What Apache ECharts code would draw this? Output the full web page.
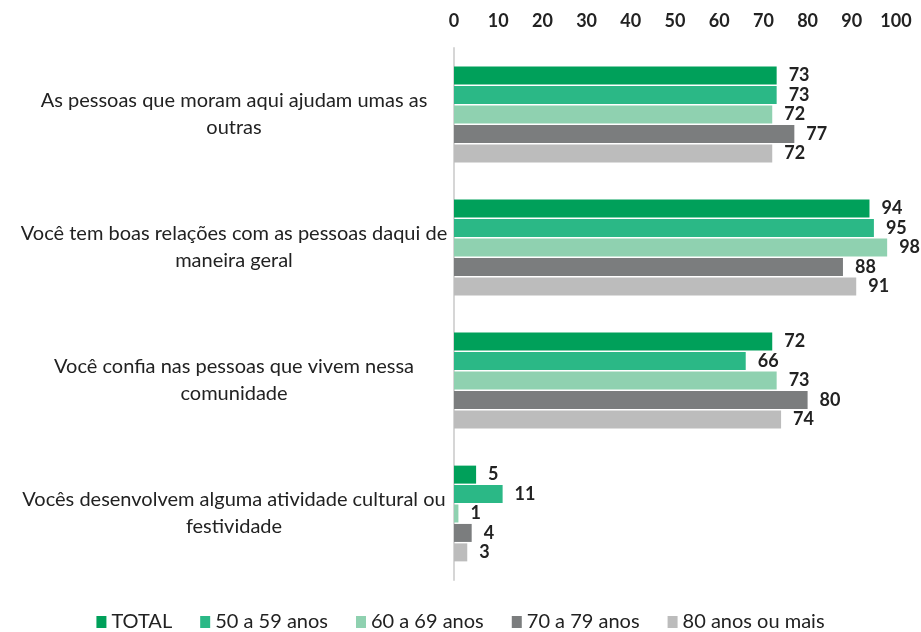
<!DOCTYPE html>
<html>
<head>
<meta charset="utf-8">
<script src="https://cdn.jsdelivr.net/npm/echarts@6/dist/echarts.min.js"></script>
<style>
  html, body { margin: 0; padding: 0; background: #fff; }
  #chart { width: 921px; height: 632px; }
</style>
</head>
<body>
<div id="chart"></div>
<script>
const categories = [
  'As pessoas que moram aqui ajudam umas as\noutras',
  'Você tem boas relações com as pessoas daqui de\nmaneira geral',
  'Você confia nas pessoas que vivem nessa\ncomunidade',
  'Vocês desenvolvem alguma atividade cultural ou\nfestividade'
]
const seriesNames = ['TOTAL', '50 a 59 anos', '60 a 69 anos', '70 a 79 anos', '80 anos ou mais']
const seriesColors = ['#00a05a', '#2bb886', '#8fd1b0', '#7b7d7e', '#bcbcbc']
const total = [73, 94, 72, 5]
const age50 = [73, 95, 66, 11]
const age60 = [72, 98, 73, 1]
const age70 = [77, 88, 80, 4]
const age80 = [72, 91, 74, 3]
const values = [total, age50, age60, age70, age80]

const chart = echarts.init(document.getElementById('chart'))
const font = 'Lato, "DejaVu Sans", sans-serif'

const option = {
  animation: false,
  textStyle: { fontFamily: font },
  legend: {
    bottom: 0,
    padding: 0,
    left: 'center',
    icon: 'rect',
    itemWidth: 10,
    itemHeight: 12,
    itemGap: 28,
    textStyle: { fontSize: 20, color: '#222', fontFamily: font },
    data: seriesNames
  },
  grid: {
    left: 454,
    right: 25,
    top: 48,
    bottom: 52
  },
  xAxis: {
    type: 'value',
    position: 'top',
    min: 0,
    max: 100,
    interval: 10,
    axisLine: { show: false },
    axisTick: { show: false },
    splitLine: { show: false },
    axisLabel: { fontSize: 18, color: '#222', margin: 18, fontWeight: 'bold', fontFamily: font }
  },
  yAxis: {
    type: 'category',
    inverse: true,
    data: categories,
    axisLine: { show: true, lineStyle: { color: '#d6d6d6', width: 2 } },
    axisTick: { show: false },
    axisLabel: {
      align: 'center',
      margin: 220,
      fontSize: 20,
      lineHeight: 27,
      color: '#222',
      fontFamily: font
    }
  },
  series: seriesNames.map((name, i) => ({
    name: name,
    type: 'bar',
    data: values[i],
    barWidth: 18,
    barGap: '8%',
    itemStyle: { color: seriesColors[i] },
    label: {
      show: true,
      position: 'right',
      distance: 12,
      fontSize: 18,
      fontWeight: 'bold',
      color: '#222',
      fontFamily: font
    }
  }))
}

chart.setOption(option)
</script>
</body>
</html>
